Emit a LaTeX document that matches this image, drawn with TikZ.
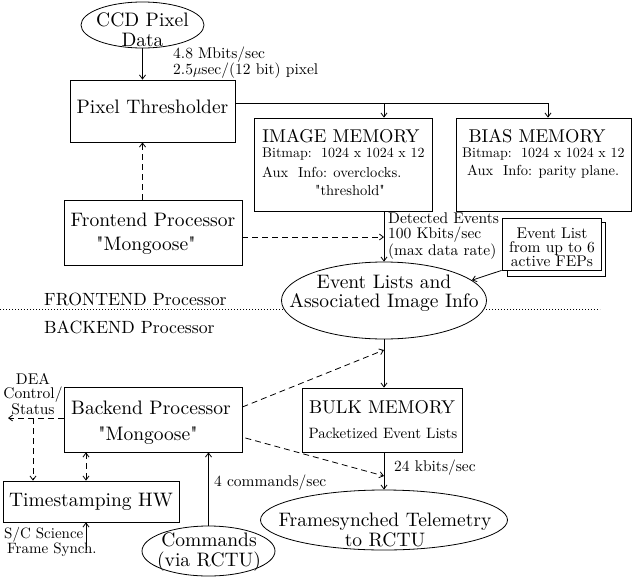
\documentclass[tikz,border=0pt]{standalone}
\usepackage{fontspec}
\setmainfont{lmroman10-regular.otf}[Ligatures=TeXOff]
\usetikzlibrary{shapes.geometric,arrows.meta}
\newcommand\fbig{\fontsize{19.5}{20}\selectfont}
\newcommand\fmed{\fontsize{18.5}{20}\selectfont}
\newcommand\fsml{\fontsize{15.5}{15}\selectfont}
\newcommand\fbmp{\fontsize{14}{15}\selectfont}
\tikzset{
  lw/.style={line width=0.8pt},
  box/.style={draw, lw, rectangle, inner sep=0pt, fill=white},
  ell/.style={draw, lw, ellipse, inner sep=0pt, fill=white},
  arr/.style={lw, -{Straight Barb[length=4pt,width=6pt]}},
  darr/.style={lw, {Straight Barb[length=4pt,width=6pt]}-{Straight Barb[length=4pt,width=6pt]}},
  dsh/.style={dash pattern=on 6pt off 4pt},
  txt/.style={inner sep=0pt, font=\fbig},
  stxt/.style={inner sep=0pt, font=\fsml},
}
\begin{document}
\begin{tikzpicture}[x=1pt,y=-1pt]
\useasboundingbox (0,0) rectangle (632,576);
% dotted divider (drawn first, ellipse covers it)
\coordinate (dl) at (0,309);
\coordinate (dr) at (600,309);
\draw[lw, dash pattern=on 1pt off 2pt] (dl) -- (dr);

% boxes
\node[box, minimum width=165pt, minimum height=62pt] (pt) at (152.5,111) {};
\node[box, minimum width=178pt, minimum height=93pt] (im) at (343,164.5) {};
\node[box, minimum width=175pt, minimum height=93pt] (bm) at (543.5,164.5) {};
\node[box, minimum width=178pt, minimum height=65pt] (fe) at (153,232.5) {};
\node[box, minimum width=98pt, minimum height=54pt] (elb) at (556.5,249) {};
\node[box, minimum width=99pt, minimum height=52pt] (el) at (551.5,244) {};
\node[box, minimum width=160pt, minimum height=64pt] (bk) at (382,420) {};
\node[box, minimum width=178pt, minimum height=65pt] (be) at (153,419.5) {};
\node[box, minimum width=176pt, minimum height=41pt] (ts) at (91,501.5) {};

% ellipses
\node[ell, minimum width=123pt, minimum height=46pt] (ccd) at (142.5,25) {};
\node[ell, minimum width=205pt, minimum height=77pt] (ev) at (384,300.5) {};
\node[ell, minimum width=247pt, minimum height=60pt] (ft) at (384,520) {};
\node[ell, minimum width=133pt, minimum height=50pt] (cm) at (208.5,551) {};

% texts
\node[txt, align=center, font=\fontsize{19.5}{20}\selectfont] (ccdT) at (142.5,30) {CCD Pixel\\Data};
\node[stxt, anchor=west, align=left, font=\fontsize{15.5}{15}\selectfont] (rateT) at (173,62.5) {4.8 Mbits/sec\\2.5$\mu$sec/(12 bit) pixel};
\node[txt] (ptT) at (152.5,107) {Pixel Thresholder};

\node[txt, font=\fmed] (imT) at (341,136) {IMAGE MEMORY};
\node[stxt, anchor=west, font=\fbmp] (imT2) at (262,154) {Bitmap:\ \ 1024 x 1024 x 12};
\node[stxt, anchor=west, font=\fontsize{14.5}{15}\selectfont] (imT3) at (262,172) {Aux\ \ Info: overclocks.};
\node[stxt, font=\fontsize{14.5}{15}\selectfont] (imT4) at (350,190) {"threshold"};

\node[txt, font=\fmed] (bmT) at (537,136) {BIAS MEMORY};
\node[stxt, anchor=west, font=\fbmp] (bmT2) at (462,154) {Bitmap:\ \ 1024 x 1024 x 12};
\node[stxt, anchor=west, font=\fontsize{14.5}{15}\selectfont] (bmT3) at (467,172) {Aux\ \ Info: parity plane.};

\node[txt] (feT) at (153,220) {Frontend Processor};
\node[txt] (feT2) at (146,246) {"Mongoose"};

\node[stxt, anchor=west, align=left, font=\fontsize{15.5}{15}\selectfont] (detT) at (388,236) {Detected Events\\100 Kbits/sec\\(max data rate)};

\node[stxt, align=center, font=\fontsize{15.5}{14.2}\selectfont] (elT) at (552,247) {Event List\\from up to 6\\active FEPs};

\node[txt, align=center, font=\fontsize{19.5}{19}\selectfont] (evT) at (384,293.5) {Event Lists and\\Associated Image Info};

\node[txt, anchor=west, font=\fontsize{17.7}{20}\selectfont] (frT) at (44,299) {FRONTEND Processor};
\node[txt, anchor=west, font=\fontsize{17.7}{20}\selectfont] (bkT0) at (44,327) {BACKEND Processor};

\node[txt, font=\fmed] (bkT) at (382,407) {BULK MEMORY};
\node[stxt, font=\fontsize{15}{15}\selectfont] (bkT2) at (383,433) {Packetized Event Lists};
\node[stxt, anchor=west] (kbT) at (394,468) {24 kbits/sec};

\node[txt, align=center, font=\fontsize{19.5}{20}\selectfont] (ftT) at (385,530) {Framesynched Telemetry\\to RCTU};

\node[txt] (beT) at (151,408) {Backend Processor};
\node[txt] (beT2) at (148,436) {"Mongoose"};

\node[stxt, align=center, font=\fontsize{15.5}{14}\selectfont] (deaT) at (33,394) {DEA\\Control/\\Status};

\node[txt] (tsT) at (91,502) {Timestamping HW};
\node[stxt, anchor=north west, align=left, font=\fontsize{15}{12}\selectfont] (scT) at (4,527) {S/C Science\\\hspace*{3pt}Frame Synch.};

\node[stxt, anchor=west] (cmdT) at (214,483) {4 commands/sec};
\node[txt, align=center, font=\fontsize{19.5}{20}\selectfont] (cmT) at (209,552) {Commands\\(via RCTU)};

% coordinates
\coordinate (j1) at (384,103);
\coordinate (j2) at (548,103);
\coordinate (feo) at ([yshift=-4.5pt]fe.east);
\coordinate (beo1) at ([yshift=12.5pt]be.east);
\coordinate (beo2) at ([yshift=-18.5pt,xshift=3pt]be.east);
\coordinate (t1) at (384,350);
\coordinate (t2) at (384,476);
\coordinate (dea) at (8,418);
\coordinate (d1) at (33,418);
\coordinate (c86) at (86,550);

% connectors
\draw[arr] (ccd.south) -- (ccd.south |- pt.north);
\draw[lw] (pt.east |- j1) -- (j2);
\draw[arr] (j1) -- (j1 |- im.north);
\draw[arr] (j2) -- (j2 |- bm.north);
\draw[arr, dsh] (ccd.south |- fe.north) -- (ccd.south |- pt.south);
\draw[arr] (j1 |- im.south) -- (ev.north);
\draw[arr, dsh] (feo) -- (feo -| j1);
\draw[arr] (el.south west) -- (ev.13);
\draw[arr] (ev.south) -- (ev.south |- bk.north);
\draw[arr] (ev.south |- bk.south) -- (ev.south |- ft.north);
\draw[arr, dsh] (beo1) -- (t1);
\draw[arr, dsh] (beo2) -- (t2);
\draw[arr, dsh] (be.west |- dea) -- (dea);
\draw[arr, dsh] (d1) -- (d1 |- ts.north);
\draw[darr, dsh] (c86 |- be.south) -- (c86 |- ts.north);
\draw[arr] (c86) -- (c86 |- ts.south);
\draw[arr] (cm.north) -- (cm.north |- be.south);
\end{tikzpicture}
\end{document}
